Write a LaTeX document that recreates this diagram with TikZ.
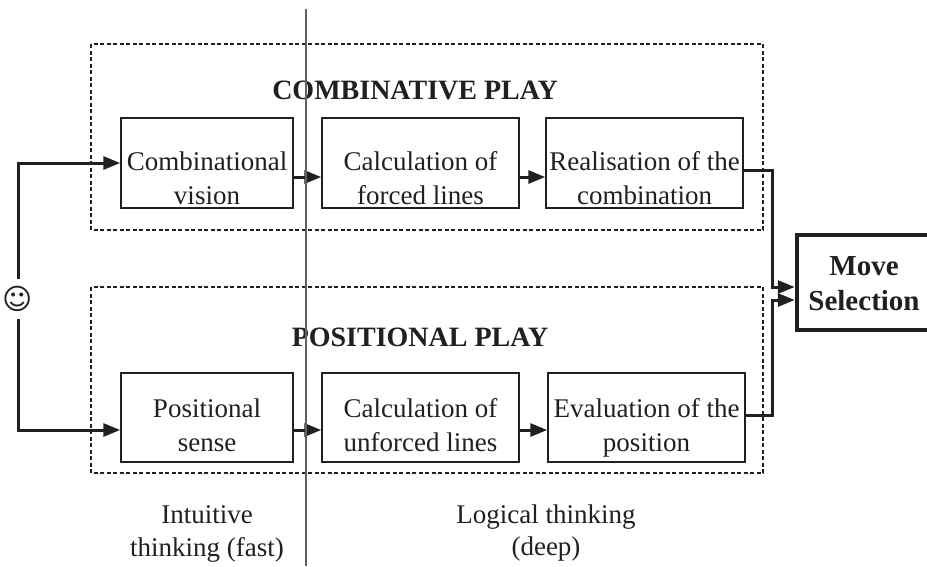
\documentclass[tikz,border=0pt]{standalone}
\usepackage{fontspec}
\setmainfont{Liberation Serif}
\newfontfamily\symfont{DejaVu Sans}
\usetikzlibrary{arrows.meta}
\definecolor{ink}{HTML}{231F20}
\begin{document}
\begin{tikzpicture}[x=1pt,y=-1pt,
  every node/.style={text=ink, font=\fontsize{27}{34}\selectfont},
  stagebox/.style={draw=ink, line width=1.5pt, minimum height=90pt, inner sep=0pt},
  groupbox/.style={draw=ink, line width=1.2pt, dash pattern=on 4pt off 2.5pt},
  conn/.style={draw=ink, line width=3pt, -{Triangle[length=17pt,width=13pt]}},
  txt/.style={anchor=base, inner sep=0pt},
  ttl/.style={anchor=base, inner sep=0pt, font=\fontsize{28}{34}\selectfont\bfseries},
  divider/.style={draw=black!62, line width=2.8pt}
]
\useasboundingbox (0,0) rectangle (927,566);
\fill[white] (0,0) rectangle (927,566);

% group frames
\draw[groupbox] (91,44) rectangle (763,230);
\draw[groupbox] (91,287) rectangle (763,473);

% titles
\node[ttl] (tcomb) at (415,99) {COMBINATIVE PLAY};
\node[ttl] (tpos) at (420,346) {POSITIONAL PLAY};

% top row boxes
\node[stagebox, minimum width=172pt] (c1) at (207,163) {};
\node[stagebox, minimum width=197pt] (c2) at (420.5,163) {};
\node[stagebox, minimum width=197pt] (c3) at (644.5,163) {};
\node[txt] (c1a) at (207,170) {Combinational};
\node[txt] (c1b) at (207,204) {vision};
\node[txt] (c2a) at (420.5,170) {Calculation of};
\node[txt] (c2b) at (420.5,204) {forced lines};
\node[txt] (c3a) at (644.5,170) {Realisation of the};
\node[txt] (c3b) at (644.5,204) {combination};

% bottom row boxes
\node[stagebox, minimum width=172pt, minimum height=89pt] (p1) at (207,417.5) {};
\node[stagebox, minimum width=197pt, minimum height=89pt] (p2) at (420.5,417.5) {};
\node[stagebox, minimum width=197pt, minimum height=89pt] (p3) at (646.5,417.5) {};
\node[txt] (p1a) at (207,417) {Positional};
\node[txt] (p1b) at (207,451) {sense};
\node[txt] (p2a) at (420.5,417) {Calculation of};
\node[txt] (p2b) at (420.5,451) {unforced lines};
\node[txt] (p3a) at (646.5,417) {Evaluation of the};
\node[txt] (p3b) at (646.5,451) {position};

% move selection
\node[draw=ink, line width=4.5pt, minimum width=138pt, minimum height=95pt, inner sep=0pt] (ms) at (866,282.5) {};
\node[ttl, font=\fontsize{29}{34}\selectfont\bfseries] (msa) at (864,275) {Move};
\node[ttl, font=\fontsize{29}{34}\selectfont\bfseries] (msb) at (864,310) {Selection};

% smiley
\node[circle, minimum size=36pt, inner sep=0pt, font=\symfont\fontsize{29}{29}\selectfont] (smile) at (18,299) {☺};

% bottom captions
\node[txt] (l1a) at (207,523) {Intuitive};
\node[txt] (l1b) at (207,556) {thinking (fast)};
\node[txt] (l2a) at (546,523) {Logical thinking};
\node[txt] (l2b) at (546,555) {(deep)};

% connectors
\draw[conn] (smile.north) |- (c1.west);
\draw[conn] (smile.south) |- ([yshift=-12.5pt]p1.west);
\draw[conn] ([yshift=-14pt]c1.east) -- ([yshift=-14pt]c2.west);
\draw[conn] ([yshift=-14pt]c2.east) -- ([yshift=-14pt]c3.west);
\draw[conn] ([yshift=-12.5pt]p1.east) -- ([yshift=-12.5pt]p2.west);
\draw[conn] ([yshift=-12.5pt]p2.east) -- ([yshift=-12.5pt]p3.west);
\draw[conn] ([yshift=-7pt]c3.east) -- ++(29,0) |- ([yshift=-4.5pt]ms.west);
\draw[conn] ([yshift=2.5pt]p3.east) -- ++(27,0) |- ([yshift=-17.5pt]ms.west);

% divider
\draw[divider] (306,9) -- (306,566);
\end{tikzpicture}
\end{document}
